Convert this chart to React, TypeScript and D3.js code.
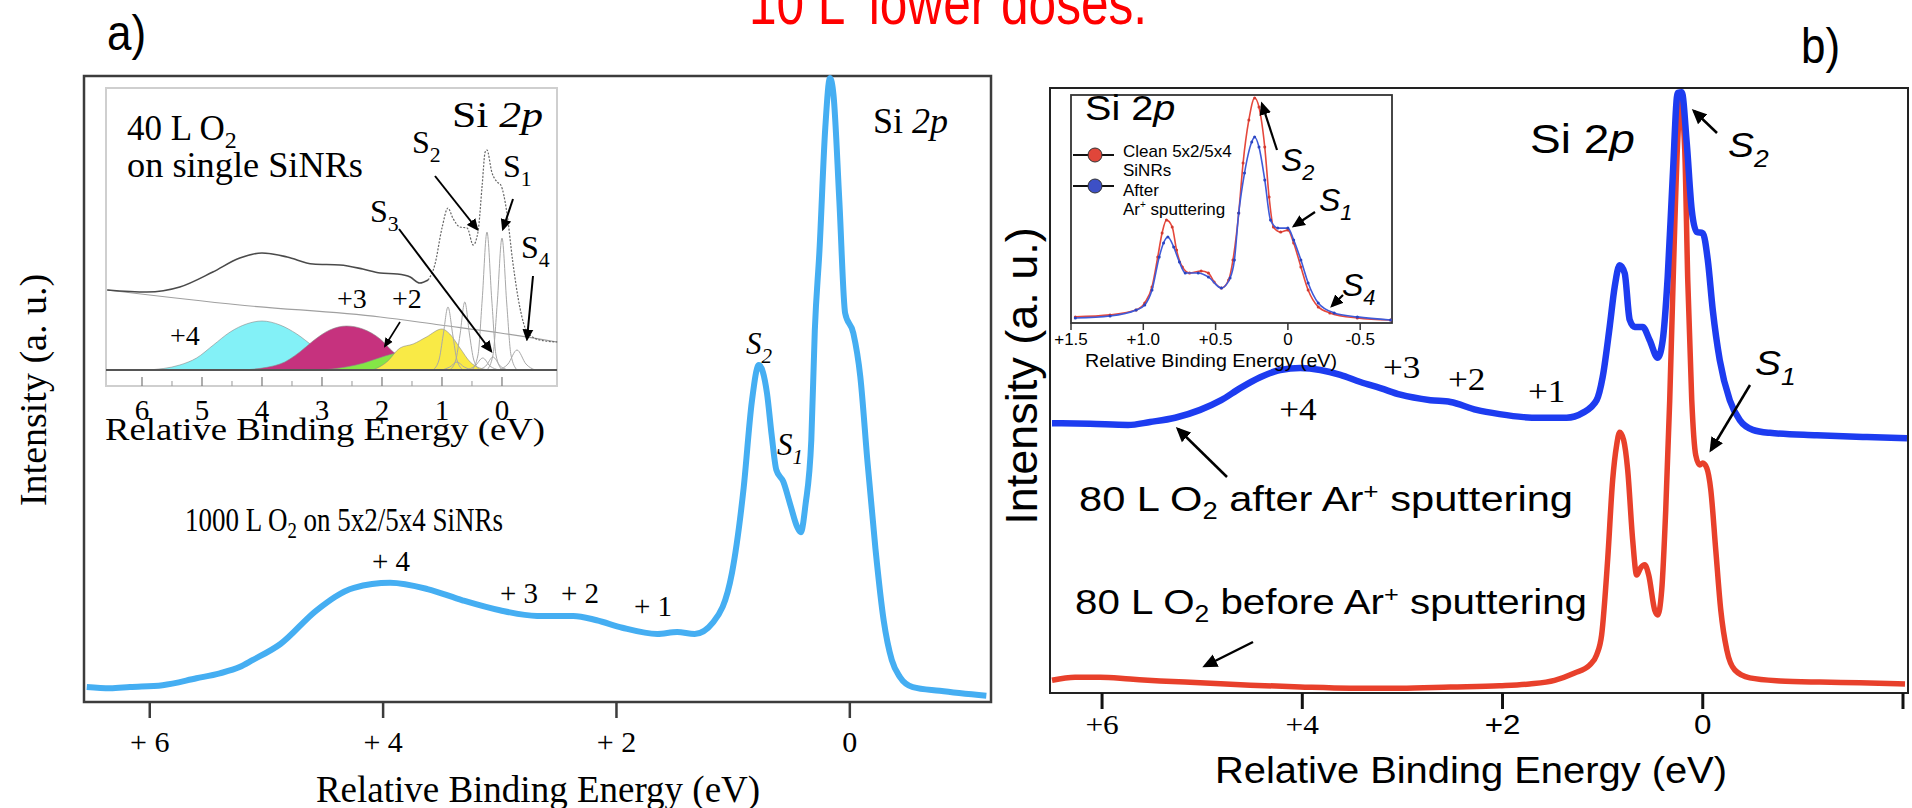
import React from 'react';
import * as d3 from 'd3';

type Pt = [number, number];

const SERIF = '"Liberation Serif", "Times New Roman", Times, serif';
const SANS = '"Liberation Sans", Arial, Helvetica, sans-serif';

// ---------- Panel a: Si 2p after 1000 L O2 on 5x2/5x4 SiNRs ----------
const ticksA = [6, 4, 2, 0];
const tickLabelsA = ['+ 6', '+ 4', '+ 2', '0'];
// [relative binding energy (eV), intensity (a.u.)]
const spectrumA: Pt[] = [
  [6.54, 2.4], [6.34, 2.2], [6.17, 2.4], [5.89, 2.7], [5.6, 3.8], [5.4, 4.6], [5.23, 5.6],
  [5.12, 6.7], [4.88, 9.3], [4.57, 14.7], [4.25, 18.3], [3.94, 19.1], [3.62, 18.1], [3.32, 16.3],
  [3.0, 14.7], [2.68, 13.8], [2.37, 13.8], [2.17, 13.1], [1.95, 11.9], [1.65, 10.9], [1.48, 11.2],
  [1.33, 10.9], [1.17, 12.8], [1.01, 20.7], [0.91, 34.3], [0.84, 48.1], [0.78, 54.0], [0.71, 49.5],
  [0.67, 42.8], [0.63, 37.2], [0.57, 35.3], [0.51, 31.6], [0.45, 28.0], [0.42, 27.2], [0.38, 31.6],
  [0.33, 42.0], [0.3, 59.6], [0.26, 72.4], [0.21, 92.1], [0.17, 100], [0.14, 97.3], [0.09, 80.4],
  [0.04, 62.3], [-0.03, 59.1], [-0.09, 52.1], [-0.15, 38.8], [-0.22, 24.5], [-0.29, 13.1],
  [-0.36, 6.7], [-0.43, 4.0], [-0.54, 2.4], [-0.77, 1.8], [-1.17, 1.0],
];

// Inset of panel a: 40 L O2 on single SiNRs, fitted components
const ticksInsetA = [6, 5, 4, 3, 2, 1, 0];
const totalInsetA: Pt[] = [
  [6.58, 80], [5.92, 78], [5.37, 83], [4.82, 98], [4.37, 112], [4.0, 117], [3.58, 113], [3.15, 106],
  [2.7, 105], [2.32, 101], [2.03, 97], [1.75, 96], [1.53, 93], [1.37, 87], [1.23, 90], [1.12, 105],
  [1.0, 142], [0.9, 162], [0.82, 152], [0.7, 143], [0.58, 142], [0.48, 125], [0.4, 138], [0.33, 185],
  [0.28, 218], [0.25, 220], [0.17, 198], [0.08, 188], [0.02, 185], [-0.08, 158], [-0.18, 108],
  [-0.3, 62], [-0.42, 38], [-0.63, 30], [-0.92, 28],
];
const backgroundInsetA: Pt[] = [[6.58, 80], [4.37, 65], [2.03, 53], [1.03, 45], [0.03, 37], [-0.92, 28]];
const compPlus4: Pt[] = [
  [5.9, 0], [5.37, 5], [5.09, 12], [4.81, 25], [4.53, 38], [4.26, 46], [4.0, 49], [3.7, 45],
  [3.42, 36], [3.15, 24], [2.82, 12], [2.42, 3], [2.0, 0],
];
const compPlus3: Pt[] = [
  [4.3, 0], [3.7, 6], [3.37, 18], [3.15, 29], [2.87, 40], [2.59, 44], [2.32, 41], [2.03, 31],
  [1.81, 18], [1.48, 6], [1.1, 0],
];
const compPlus2: Pt[] = [
  [3.0, 0], [2.6, 3], [2.3, 7], [2.0, 13], [1.75, 17], [1.5, 18], [1.2, 13], [0.9, 6], [0.6, 0],
];
const compPlus1: Pt[] = [
  [2.15, 0], [1.92, 8], [1.7, 22], [1.48, 26], [1.26, 33], [1.0, 41], [0.87, 36], [0.7, 22],
  [0.53, 8], [0.37, 2], [0.2, 0],
];
const peakA09: Pt[] = [[1.15, 0], [1.05, 10], [0.98, 35], [0.9, 63], [0.82, 35], [0.75, 10], [0.65, 0]];
const peakA06: Pt[] = [[0.87, 0], [0.77, 10], [0.7, 35], [0.62, 68], [0.54, 35], [0.47, 10], [0.37, 0]];
const peakAS2: Pt[] = [[0.5, 0], [0.4, 15], [0.33, 70], [0.25, 138], [0.17, 70], [0.1, 15], [0.0, 0]];
const peakAS1: Pt[] = [[0.25, 0], [0.15, 15], [0.08, 66], [0.0, 132], [-0.08, 66], [-0.15, 15], [-0.25, 0]];
const peakAS3: Pt[] = [[0.6, 0], [0.45, 4], [0.32, 12], [0.2, 4], [0.05, 0]];
const peakA015: Pt[] = [[0.4, 0], [0.27, 4], [0.15, 13], [0.03, 4], [-0.1, 0]];
const peakAS4: Pt[] = [[0.05, 0], [-0.1, 6], [-0.25, 20], [-0.4, 6], [-0.55, 0]];
const peakA075: Pt[] = [[1.0, 0], [0.87, 3], [0.75, 8], [0.63, 3], [0.5, 0]];

// ---------- Panel b: 80 L O2 before / after Ar+ sputtering ----------
const ticksB = [6, 4, 2, 0, -2];
const tickLabelsB = ['+6', '+4', '+2', '0', ''];
const afterSputter: Pt[] = [
  [6.5, 44.6], [6.12, 44.5], [5.74, 44.3], [5.52, 44.8], [5.27, 45.5], [5.02, 46.8], [4.81, 48.4],
  [4.62, 50.4], [4.42, 52.2], [4.22, 53.4], [4.02, 53.7], [3.82, 53.4], [3.62, 52.6], [3.42, 51.4],
  [3.22, 50.4], [3.02, 49.3], [2.72, 48.4], [2.52, 48.1], [2.26, 46.8], [2.03, 46.1], [1.79, 45.6],
  [1.63, 45.5], [1.36, 45.5], [1.2, 46.3], [1.06, 48.4], [1.0, 52.2], [0.93, 60.5], [0.88, 67.1],
  [0.83, 70.7], [0.78, 69.4], [0.73, 61.7], [0.68, 60.5], [0.6, 60.5], [0.53, 58.3], [0.45, 55.4],
  [0.4, 58.3], [0.35, 68.8], [0.3, 85.3], [0.25, 99.2], [0.21, 99.3], [0.16, 90.9], [0.11, 79.8],
  [0.06, 76.2], [0.0, 76.0], [-0.05, 71.6], [-0.1, 63.3], [-0.17, 55.0], [-0.27, 48.4], [-0.37, 45.1],
  [-0.5, 43.5], [-0.67, 43.0], [-1.14, 42.6], [-1.64, 42.3], [-2.04, 42.1],
];
const beforeSputter: Pt[] = [
  [6.5, 2.1], [6.27, 2.6], [6.02, 2.6], [5.72, 2.3], [5.42, 2.0], [5.02, 1.7], [4.52, 1.3], [4.02, 1.0],
  [3.52, 0.8], [3.02, 0.8], [2.52, 1.0], [2.03, 1.2], [1.73, 1.5], [1.48, 2.1], [1.28, 3.3], [1.13, 4.6],
  [1.06, 6.3], [1.01, 9.6], [0.95, 22.0], [0.9, 35.2], [0.86, 41.0], [0.83, 43.1], [0.79, 41.8],
  [0.75, 36.9], [0.7, 25.3], [0.66, 19.5], [0.62, 20.7], [0.58, 21.2], [0.54, 19.5], [0.48, 13.7],
  [0.45, 12.9], [0.41, 17.0], [0.37, 30.2], [0.33, 48.4], [0.29, 71.6], [0.25, 91.4], [0.22, 98.0],
  [0.18, 89.8], [0.15, 68.3], [0.11, 48.4], [0.07, 39.3], [0.03, 37.7], [0.0, 38.0], [-0.04, 37.2],
  [-0.08, 33.6], [-0.13, 23.6], [-0.18, 13.7], [-0.24, 7.1], [-0.32, 3.8], [-0.47, 2.5], [-0.77, 2.0],
  [-1.17, 1.8], [-1.57, 1.7], [-2.02, 1.5],
];

// Inset of panel b: clean SiNRs vs. after Ar+ sputtering
const ticksInsetB = [1.5, 1.0, 0.5, 0, -0.5];
const tickLabelsInsetB = ['+1.5', '+1.0', '+0.5', '0', '-0.5'];
const cleanInsetB: Pt[] = [
  [1.47, 1.4], [1.23, 2.3], [1.05, 4.5], [0.99, 7.7], [0.94, 14.9], [0.9, 28.4], [0.87, 39.2],
  [0.84, 45.0], [0.8, 41.9], [0.77, 31.5], [0.73, 23.9], [0.68, 21.2], [0.6, 22.1], [0.55, 21.2],
  [0.51, 17.1], [0.46, 14.4], [0.41, 18.0], [0.38, 27.0], [0.34, 48.2], [0.31, 70.7], [0.27, 90.1],
  [0.23, 100], [0.2, 95.9], [0.16, 77.9], [0.13, 55.4], [0.1, 41.9], [0.05, 39.6], [0.0, 40.5],
  [-0.04, 34.7], [-0.09, 23.9], [-0.14, 13.5], [-0.21, 5.9], [-0.29, 3.2], [-0.48, 0.9], [-0.71, 0],
];
const sputteredInsetB: Pt[] = [
  [1.47, 0.9], [1.23, 1.8], [1.05, 4.5], [0.99, 6.8], [0.94, 13.5], [0.89, 28.4], [0.86, 34.7],
  [0.83, 37.4], [0.79, 32.9], [0.75, 26.1], [0.71, 21.2], [0.62, 21.2], [0.55, 19.4], [0.46, 14.4],
  [0.4, 18.9], [0.37, 27.0], [0.34, 48.2], [0.3, 66.2], [0.25, 80.2], [0.23, 82.4], [0.2, 77.9],
  [0.16, 63.1], [0.12, 45.0], [0.07, 41.4], [0.0, 41.4], [-0.04, 36.0], [-0.09, 27.0], [-0.14, 16.7],
  [-0.21, 7.7], [-0.32, 3.2], [-0.48, 1.4], [-0.71, 0],
];

// ---------- scales ----------
const xA = d3.scaleLinear().domain([6.555, -1.21]).range([85, 991]);
const yA = d3.scaleLinear().domain([0, 100]).range([702, 78]);
const xAi = d3.scaleLinear().domain([6.6, -0.917]).range([106, 557]);
const yAi = d3.scaleLinear().domain([0, 282]).range([370, 88]);
const xB = d3.scaleLinear().domain([6.52, -2.05]).range([1050, 1908]);
const yB = d3.scaleLinear().domain([0, 100]).range([693, 88]);
const xBi = d3.scaleLinear().domain([1.5, -0.72]).range([1071, 1392]);
const yBi = d3.scaleLinear().domain([0, 100]).range([320, 98]);

type Sc = d3.ScaleLinear<number, number>;
const lineOf = (xs: Sc, ys: Sc, data: Pt[]) =>
  d3.line<Pt>().x((d) => xs(d[0])).y((d) => ys(d[1])).curve(d3.curveMonotoneX)(data) || '';
const areaOf = (xs: Sc, ys: Sc, data: Pt[]) =>
  d3.area<Pt>().x((d) => xs(d[0])).y0(ys(0)).y1((d) => ys(d[1])).curve(d3.curveMonotoneX)(data) || '';

interface TxtProps {
  x: number;
  y: number;
  size: number;
  family?: string;
  anchor?: 'start' | 'middle' | 'end';
  sx?: number;
  rotate?: number;
  italic?: boolean;
  fill?: string;
  w?: number;
  children?: React.ReactNode;
}
function Txt({ x, y, size, family = SERIF, anchor = 'start', sx = 1, rotate, italic, fill = '#000', w, children }: TxtProps) {
  let tf = `translate(${x},${y})`;
  if (rotate) tf += ` rotate(${rotate})`;
  if (sx !== 1) tf += ` scale(${sx},1)`;
  return (
    <text
      transform={tf}
      fontSize={size}
      fontFamily={family}
      textAnchor={anchor}
      fill={fill}
      fontStyle={italic ? 'italic' : undefined}
      textLength={w}
      lengthAdjust={w ? 'spacingAndGlyphs' : undefined}
    >
      {children}
    </text>
  );
}

function Arrow({ x1, y1, x2, y2, w = 2 }: { x1: number; y1: number; x2: number; y2: number; w?: number }) {
  return <line x1={x1} y1={y1} x2={x2} y2={y2} stroke="#000" strokeWidth={w} markerEnd="url(#arrowHead)" />;
}

// Labelled species letter with subscript, e.g. S₂
function Sub({ x, y, size, family, italicMain, italicSub, main, sub, sx = 1 }: {
  x: number; y: number; size: number; family: string; italicMain?: boolean; italicSub?: boolean; main: string; sub: string; sx?: number;
}) {
  return (
    <text transform={`translate(${x},${y}) scale(${sx},1)`} fontSize={size} fontFamily={family}>
      <tspan fontStyle={italicMain ? 'italic' : 'normal'}>{main}</tspan>
      <tspan dy={size * 0.28} fontSize={size * 0.68} fontStyle={italicSub ? 'italic' : 'normal'}>{sub}</tspan>
    </text>
  );
}

export default function App() {
  const solidPart = totalInsetA.filter((d) => d[0] >= 1.2);
  const dottedPart = totalInsetA.filter((d) => d[0] <= 1.25);
  const thinPeaks = [peakA09, peakA06, peakAS2, peakAS1, peakAS3, peakA015, peakAS4, peakA075];

  return (
    <svg
      width={1912}
      height={808}
      viewBox="0 0 1912 808"
      style={{ position: 'absolute', left: 0, top: 0, background: '#fff' }}
    >
      <defs>
        <marker id="arrowHead" viewBox="0 0 10 10" refX="8" refY="5" markerWidth="6" markerHeight="6" orient="auto">
          <path d="M0,0.5 L10,5 L0,9.5 z" fill="#000" />
        </marker>
      </defs>
      <rect x={0} y={0} width={1912} height={808} fill="#fff" />

      {/* heading, cut at the top edge */}
      <Txt x={948} y={24} size={62} family={SANS} anchor="middle" sx={0.8} fill="#ff0000">
        10 L<tspan dy={-20} fontSize={36}>-</tspan><tspan dy={20}> lower doses.</tspan>
      </Txt>
      <Txt x={107} y={50} size={50} family={SANS} sx={0.88}>a)</Txt>
      <Txt x={1801} y={63} size={50} family={SANS} sx={0.88}>b)</Txt>

      {/* ================= Panel a ================= */}
      <rect x={84} y={76} width={907} height={626} fill="none" stroke="#3c3c3c" strokeWidth={2.5} />
      {ticksA.map((v, i) => (
        <g key={'ta' + v}>
          <line x1={xA(v)} x2={xA(v)} y1={702} y2={718} stroke="#3c3c3c" strokeWidth={2.5} />
          <Txt x={xA(v)} y={752} size={30} anchor="middle">{tickLabelsA[i]}</Txt>
        </g>
      ))}
      <Txt x={538} y={802} size={37} anchor="middle">Relative Binding Energy (eV)</Txt>
      <Txt x={46} y={390} size={38} anchor="middle" rotate={-90}>Intensity (a. u.)</Txt>

      <path d={lineOf(xA, yA, spectrumA)} fill="none" stroke="#45aef2" strokeWidth={6} strokeLinejoin="round" />

      <Txt x={873} y={133} size={36}>
        Si <tspan fontStyle="italic">2p</tspan>
      </Txt>
      <Sub x={746} y={354} size={31} family={SERIF} italicMain italicSub main="S" sub="2" />
      <Sub x={777} y={455} size={31} family={SERIF} italicMain italicSub main="S" sub="1" />

      <text x={185} y={531} fontSize={33} fontFamily={SERIF} textLength={318} lengthAdjust="spacingAndGlyphs">
        1000 L O<tspan dy={7} fontSize={23}>2</tspan><tspan dy={-7}> on 5x2/5x4 SiNRs</tspan>
      </text>
      <Txt x={372} y={571} size={29}>+ 4</Txt>
      <Txt x={500} y={603} size={29}>+ 3</Txt>
      <Txt x={561} y={603} size={29}>+ 2</Txt>
      <Txt x={634} y={616} size={29}>+ 1</Txt>

      {/* inset a */}
      <rect x={106} y={88} width={451} height={298} fill="#fff" stroke="#cfcfcf" strokeWidth={2} />
      <path d={lineOf(xAi, yAi, backgroundInsetA)} fill="none" stroke="#a0a0a0" strokeWidth={1.2} />
      <path d={areaOf(xAi, yAi, compPlus4)} fill="#83f1f7" stroke="#8a8a8a" strokeWidth={0.6} />
      <path d={areaOf(xAi, yAi, compPlus3)} fill="#c6327e" stroke="#8a8a8a" strokeWidth={0.6} />
      <path d={areaOf(xAi, yAi, compPlus2)} fill="#84e646" stroke="#8a8a8a" strokeWidth={0.6} />
      <path d={areaOf(xAi, yAi, compPlus1)} fill="#f9ea46" stroke="#8a8a8a" strokeWidth={0.6} />
      {thinPeaks.map((p, i) => (
        <path key={'pk' + i} d={lineOf(xAi, yAi, p)} fill="none" stroke="#a8a8a8" strokeWidth={1} />
      ))}
      <path d={lineOf(xAi, yAi, solidPart)} fill="none" stroke="#4a4a4a" strokeWidth={1.6} />
      <path d={lineOf(xAi, yAi, dottedPart)} fill="none" stroke="#666" strokeWidth={1.2} strokeDasharray="2 1.5" />
      <line x1={106} x2={557} y1={yAi(0)} y2={yAi(0)} stroke="#555" strokeWidth={2} />
      {ticksInsetA.map((v) => (
        <line key={'tai' + v} x1={xAi(v)} x2={xAi(v)} y1={377} y2={386} stroke="#777" strokeWidth={1.2} />
      ))}
      {ticksInsetA.slice(0, -1).map((v) => (
        <line key={'tam' + v} x1={xAi(v - 0.5)} x2={xAi(v - 0.5)} y1={381} y2={386} stroke="#999" strokeWidth={1} />
      ))}
      {ticksInsetA.map((v) => (
        <Txt key={'lai' + v} x={xAi(v)} y={420} size={29} anchor="middle">{String(v)}</Txt>
      ))}
      <Txt x={105} y={440} size={31} w={440}>Relative Binding Energy (eV)</Txt>

      <text x={127} y={140} fontSize={35} fontFamily={SERIF}>
        40 L O<tspan dy={8} fontSize={24}>2</tspan>
      </text>
      <Txt x={127} y={177} size={35} w={236}>on single SiNRs</Txt>
      <Txt x={452} y={127} size={35} w={91}>
        Si <tspan fontStyle="italic">2p</tspan>
      </Txt>
      <Sub x={412} y={153} size={32} family={SERIF} main="S" sub="2" />
      <Sub x={503} y={177} size={32} family={SERIF} main="S" sub="1" />
      <Sub x={370} y={222} size={32} family={SERIF} main="S" sub="3" />
      <Sub x={521} y={258} size={32} family={SERIF} main="S" sub="4" />
      <Arrow x1={435} y1={176} x2={477} y2={229} w={2} />
      <Arrow x1={513} y1={199} x2={503} y2={229} w={2} />
      <Arrow x1={399} y1={229} x2={491} y2={351} w={2} />
      <Arrow x1={533} y1={276} x2={527} y2={339} w={2} />
      <Arrow x1={400} y1={322} x2={385} y2={346} w={1.6} />
      <Txt x={170} y={345} size={28}>+4</Txt>
      <Txt x={337} y={308} size={28}>+3</Txt>
      <Txt x={392} y={308} size={28}>+2</Txt>

      {/* ================= Panel b ================= */}
      <rect x={1050} y={88} width={858} height={605} fill="none" stroke="#222" strokeWidth={2} />
      {ticksB.map((v, i) => (
        <g key={'tb' + v}>
          <line x1={xB(v)} x2={xB(v)} y1={693} y2={709} stroke="#111" strokeWidth={3} />
          {tickLabelsB[i] && (
            <Txt x={xB(v)} y={734} size={28} anchor="middle" sx={1.12} family={v >= 4 ? SERIF : SANS}>
              {tickLabelsB[i]}
            </Txt>
          )}
        </g>
      ))}
      <Txt x={1215} y={783} size={37} family={SANS} w={512}>Relative Binding Energy (eV)</Txt>
      <Txt x={1037} y={376} size={45} family={SANS} anchor="middle" rotate={-90}>Intensity (a. u.)</Txt>

      <path d={lineOf(xB, yB, beforeSputter)} fill="none" stroke="#e8402b" strokeWidth={5.5} strokeLinejoin="round" />
      <path d={lineOf(xB, yB, afterSputter)} fill="none" stroke="#1d3cf0" strokeWidth={6.5} strokeLinejoin="round" />

      <Txt x={1530} y={153} size={40} family={SANS} sx={1.15}>
        Si 2<tspan fontStyle="italic">p</tspan>
      </Txt>
      <Sub x={1728} y={157} size={36} family={SANS} italicMain italicSub main="S" sub="2" sx={1.08} />
      <Sub x={1755} y={375} size={36} family={SANS} italicMain italicSub main="S" sub="1" sx={1.08} />
      <Arrow x1={1717} y1={133} x2={1694} y2={111} w={2.5} />
      <Arrow x1={1750} y1={385} x2={1711} y2={450} w={2.5} />

      <Txt x={1298} y={420} size={32} anchor="middle" sx={1.1}>+4</Txt>
      <Txt x={1383} y={378} size={32} sx={1.1}>+3</Txt>
      <Txt x={1448} y={390} size={32} sx={1.1}>+2</Txt>
      <Txt x={1528} y={402} size={32} sx={1.1}>+1</Txt>

      <Txt x={1079} y={511} size={35} family={SANS} w={494}>
        80 L O<tspan dy={8} fontSize={23}>2</tspan><tspan dy={-8}> after Ar</tspan>
        <tspan dy={-12} fontSize={22}>+</tspan><tspan dy={12}> sputtering</tspan>
      </Txt>
      <Arrow x1={1227} y1={477} x2={1178} y2={429} w={2.5} />
      <Txt x={1075} y={614} size={35} family={SANS} w={512}>
        80 L O<tspan dy={8} fontSize={23}>2</tspan><tspan dy={-8}> before Ar</tspan>
        <tspan dy={-12} fontSize={22}>+</tspan><tspan dy={12}> sputtering</tspan>
      </Txt>
      <Arrow x1={1253} y1={642} x2={1205} y2={666} w={2.5} />

      {/* inset b */}
      <rect x={1071} y={95} width={321} height={228} fill="#fff" stroke="#333" strokeWidth={1.8} />
      {ticksInsetB.map((v, i) => (
        <g key={'tbi' + v}>
          <line x1={xBi(v)} x2={xBi(v)} y1={323} y2={330} stroke="#333" strokeWidth={1.5} />
          <Txt x={xBi(v)} y={345} size={17} family={SANS} anchor="middle">{tickLabelsInsetB[i]}</Txt>
        </g>
      ))}
      <Txt x={1085} y={367} size={19} family={SANS} w={252}>Relative Binding Energy (eV)</Txt>
      <path d={lineOf(xBi, yBi, cleanInsetB)} fill="none" stroke="#e5483c" strokeWidth={1.6} />
      {cleanInsetB.map((d, i) => (
        <circle key={'cr' + i} cx={xBi(d[0])} cy={yBi(d[1])} r={1.5} fill="#d23a30" />
      ))}
      <path d={lineOf(xBi, yBi, sputteredInsetB)} fill="none" stroke="#3e5ad8" strokeWidth={1.6} />
      {sputteredInsetB.map((d, i) => (
        <circle key={'cb' + i} cx={xBi(d[0])} cy={yBi(d[1])} r={1.5} fill="#2a44c0" />
      ))}
      <Txt x={1085} y={120} size={36} family={SANS} sx={1.1}>
        Si 2<tspan fontStyle="italic">p</tspan>
      </Txt>
      <line x1={1073} x2={1114} y1={155} y2={155} stroke="#111" strokeWidth={2} />
      <circle cx={1095} cy={155} r={7} fill="#e0463a" stroke="#333" strokeWidth={1} />
      <line x1={1073} x2={1114} y1={186} y2={186} stroke="#111" strokeWidth={2} />
      <circle cx={1095} cy={186} r={7} fill="#3d50c6" stroke="#333" strokeWidth={1} />
      <Txt x={1123} y={157} size={17} family={SANS}>Clean 5x2/5x4</Txt>
      <Txt x={1123} y={176} size={17} family={SANS}>SiNRs</Txt>
      <Txt x={1123} y={196} size={17} family={SANS}>After</Txt>
      <Txt x={1123} y={215} size={17} family={SANS}>
        Ar<tspan dy={-7} fontSize={10}>+</tspan><tspan dy={7}> sputtering</tspan>
      </Txt>
      <Sub x={1281} y={171} size={32} family={SANS} italicMain italicSub main="S" sub="2" />
      <Sub x={1319} y={211} size={32} family={SANS} italicMain italicSub main="S" sub="1" />
      <Sub x={1342} y={296} size={32} family={SANS} italicMain italicSub main="S" sub="4" />
      <Arrow x1={1277} y1={150} x2={1262} y2={104} w={2.2} />
      <Arrow x1={1315} y1={212} x2={1294} y2={226} w={2.2} />
      <Arrow x1={1343} y1={295} x2={1332} y2={306} w={2.2} />
    </svg>
  );
}
